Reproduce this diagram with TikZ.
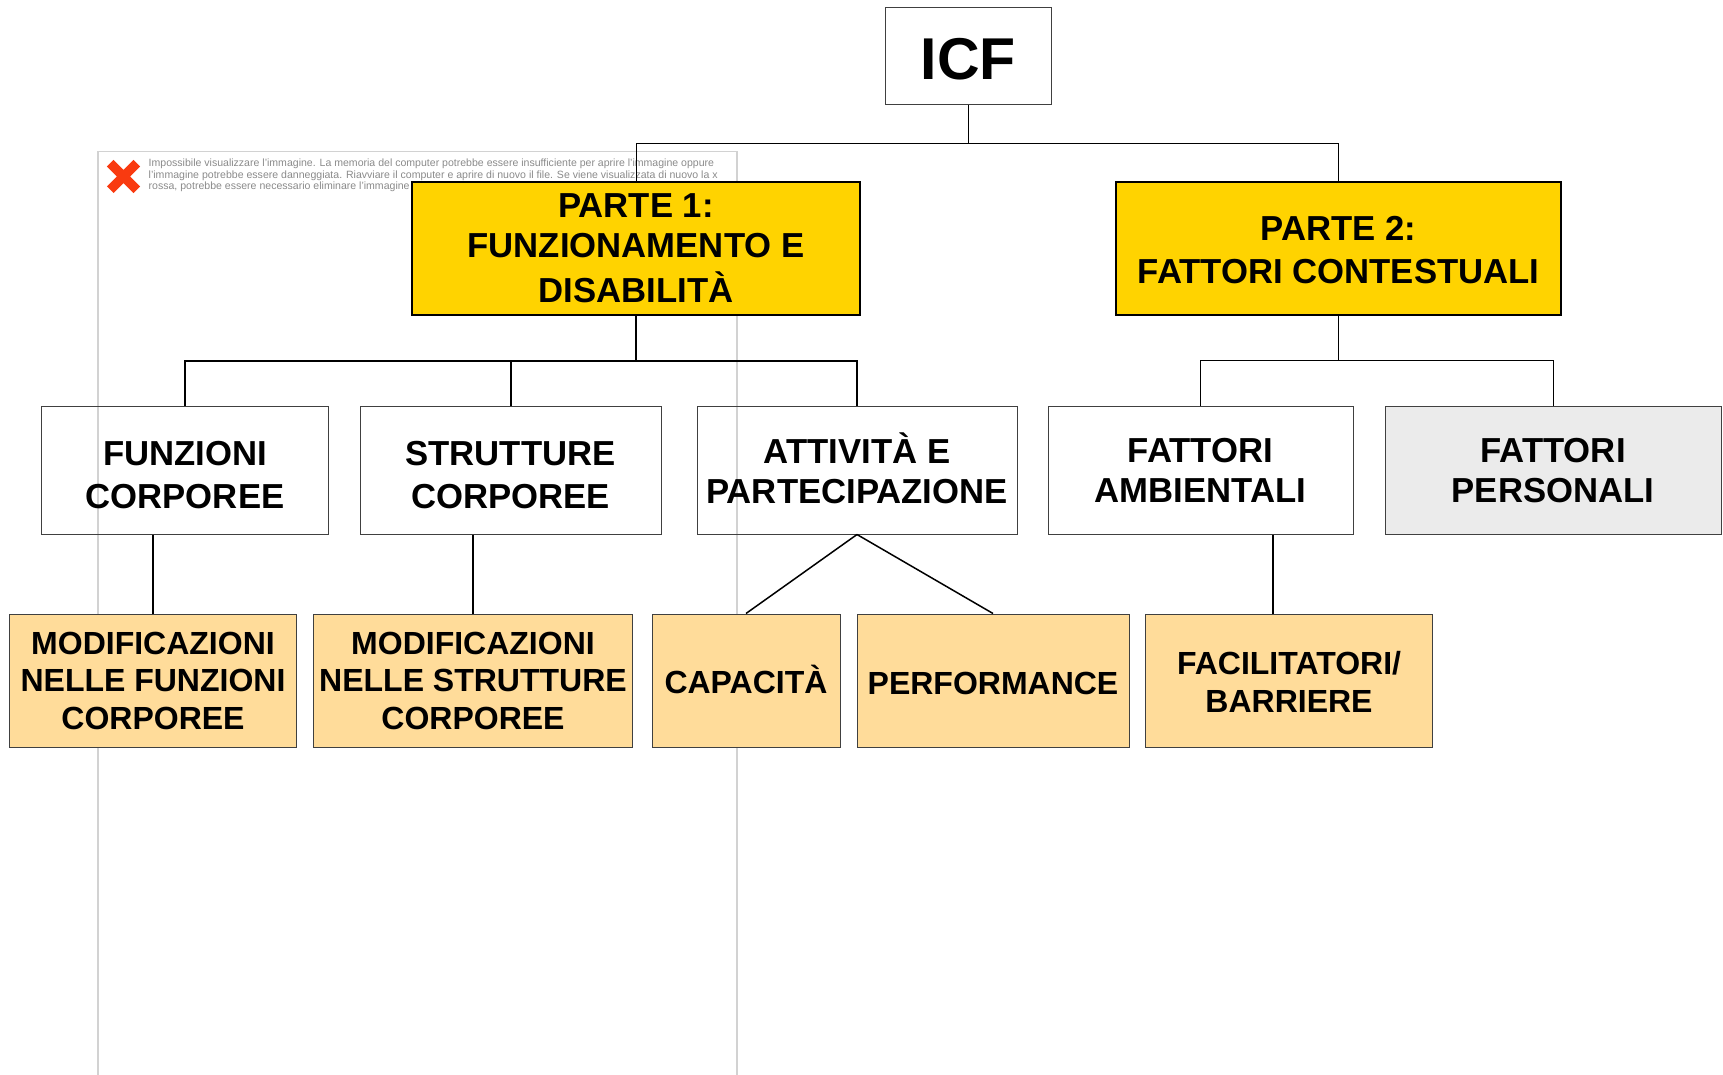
\documentclass[tikz,border=0pt]{standalone}
\usepackage{fontspec}
\setmainfont{Liberation Sans}
\usetikzlibrary{shapes.misc}

\definecolor{partyellow}{HTML}{FFD300}
\definecolor{leaforange}{HTML}{FFDC9A}
\definecolor{framegray}{HTML}{D2D2D2}
\definecolor{notegray}{HTML}{8A8A8A}
\definecolor{xred}{HTML}{F93A10}

\newcommand{\tall}[1]{\rule{0pt}{#1}}
\newcommand{\deep}[1]{\rule[-#1]{0pt}{0pt}}

\tikzstyle{box} = [rectangle,draw=black!75,line width=1pt,inner sep=0pt,align=center,font=\bfseries\fontsize{34.7}{40}\selectfont]
\tikzstyle{part box} = [box,draw=black,line width=2.5pt,fill=partyellow]
\tikzstyle{leaf box} = [box,fill=leaforange,font=\bfseries\fontsize{32}{37.5}\selectfont]
\tikzstyle{link} = [draw,line width=1pt]
\tikzstyle{thick link} = [draw,line width=2pt]

\begin{document}
\begin{tikzpicture}[x=1pt,y=-1pt]
    \useasboundingbox (0,0) rectangle (1723,1075);

    % broken picture left in the slide
    \node[draw=framegray,line width=1.5pt,minimum width=639pt,minimum height=960pt,anchor=north west,inner sep=0pt] (frame) at (97,151) {};
    \node[cross out,draw=xred,line width=9.5pt,minimum size=17pt,inner sep=0pt] (xmark) at (123.5,176.5) {};
    \node[anchor=north west,inner sep=0pt,align=left,text=notegray,font=\fontsize{10.55}{11.7}\selectfont] (note) at (148.5,158.5) {Impossibile visualizzare l'immagine. La memoria del computer potrebbe essere insufficiente per aprire l'immagine oppure\\l'immagine potrebbe essere danneggiata. Riavviare il computer e aprire di nuovo il file. Se viene visualizzata di nuovo la x\\rossa, potrebbe essere necessario eliminare l'immagine};

    \node[box,minimum width=166pt,minimum height=97pt,font=\bfseries\fontsize{59}{60}\selectfont] (icf) at (968.5,56) {\tall{47pt}ICF};
    \node[part box,minimum width=448pt,minimum height=133pt] (parte1) at (636,248.5) {PARTE 1:\\FUNZIONAMENTO E\\[5pt]DISABILITÀ};
    \node[part box,minimum width=445pt,minimum height=133pt] (parte2) at (1338.5,248.5) {\tall{27pt}PARTE 2:\\[3pt]FATTORI CONTESTUALI};

    \foreach \pos/\name/\wid/\txt in {{(185,470)/funz/287.5pt/\tall{35pt}FUNZIONI\\[3pt]CORPOREE},
        {(510.5,470)/strut/301pt/\tall{35pt}STRUTTURE\\[3pt]CORPOREE}, {(857,470)/att/320pt/ATTIVITÀ E\\PARTECIPAZIONE\deep{4.4pt}},
        {(1200.5,470)/famb/305pt/\tall{25pt}FATTORI\\AMBIENTALI}}
    \node[box,minimum width=\wid,minimum height=128pt] (\name) at \pos {\txt};
    \node[box,fill=black!8,minimum width=336pt,minimum height=128pt] (fpers) at (1553,470) {\tall{25pt}FATTORI\\PERSONALI};

    \foreach \pos/\name/\wid/\txt in {{(153,680.5)/mod1/287.5pt/MODIFICAZIONI\\NELLE FUNZIONI\\CORPOREE},
        {(473,680.5)/mod2/319pt/MODIFICAZIONI\\NELLE STRUTTURE\\CORPOREE}, {(746,680.5)/cap/188pt/CAPACITÀ\deep{2pt}},
        {(993,680.5)/perf/272pt/\tall{28pt}PERFORMANCE}, {(1289,680.5)/fac/287pt/{\tall{26pt}FACILITATORI/\\BARRIERE}}}
    \node[leaf box,minimum width=\wid,minimum height=133pt] (\name) at \pos {\txt};

    \coordinate (bar1) at (0,143.5);
    \coordinate (bar2) at (0,360.5);
    \coordinate (facin) at (1273,614);

    % Connect the boxes
    \foreach \dest in {parte1, parte2}
    \path[link] (icf.south) -- (icf.south |- bar1) -| (\dest.north);

    \foreach \dest in {funz, strut, att}
    \path[thick link] (parte1.south) -- (parte1.south |- bar2) -| (\dest.north);

    \foreach \dest in {famb, fpers}
    \path[link] (parte2.south) -- (parte2.south |- bar2) -| (\dest.north);

    \path[thick link] (mod1.north |- funz.south) -- (mod1.north);
    \path[link,line width=1.5pt] (mod2.north |- strut.south) -- (mod2.north);
    \path[link,line width=1.5pt] (facin |- famb.south) -- (facin);
    \foreach \dest in {cap, perf}
    \path[link,line width=1.5pt] (att.south) -- (\dest.north);
\end{tikzpicture}
\end{document}
